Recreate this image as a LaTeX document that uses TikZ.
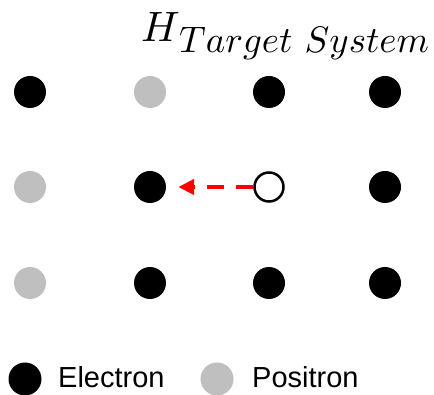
\documentclass[tikz,border=0pt]{standalone}
\usepackage{graphicx}
\usepackage{fontspec}
\setsansfont{Liberation Sans}
\usetikzlibrary{arrows.meta}
\definecolor{pos}{HTML}{BFBFBF}
\begin{document}
\begin{tikzpicture}[x=1pt,y=-1pt,
  electron/.style={circle,fill=black,minimum size=32pt,inner sep=0pt},
  positron/.style={circle,fill=pos,minimum size=32pt,inner sep=0pt},
  hole/.style={circle,draw=black,line width=2.5pt,fill=white,minimum size=29pt,inner sep=0pt},
  lbl/.style={font=\sffamily\fontsize{29}{29}\selectfont,inner sep=0pt,anchor=base west}]
\useasboundingbox (0,0) rectangle (434,395);
\node[anchor=base west,inner sep=0pt] (title) at (141,42)
  {\resizebox{!}{29pt}{$H$}};
\node[anchor=base west,inner sep=0pt] (sub) at (179,53)
  {\resizebox{250pt}{!}{$Target\ System$}};
% row 1
\node[electron] (a11) at (30,92) {};
\node[positron] (a12) at (150,92) {};
\node[electron] (a13) at (269,92) {};
\node[electron] (a14) at (385,92) {};
% row 2
\node[positron] (a21) at (30,187) {};
\node[electron] (a22) at (150,187) {};
\node[hole] (a23) at (269,187) {};
\node[electron] (a24) at (385,187) {};
% row 3
\node[positron] (a31) at (30,283) {};
\node[electron] (a32) at (150,283) {};
\node[electron] (a33) at (269,283) {};
\node[electron] (a34) at (385,283) {};
% arrow
\draw[red,line width=4pt,dash pattern=on 17pt off 12pt,
  -{Triangle[length=16pt,width=15pt]}]
  (a23.west) -- ([xshift=12pt]a22.east);
% legend
\node[electron,minimum size=33pt] (le) at (25,379) {};
\node[lbl] (lt) at (58,388) {Electron};
\node[positron,minimum size=33pt] (lp) at (217,379) {};
\node[lbl] (pt) at (252,388) {Positron};
\end{tikzpicture}
\end{document}
